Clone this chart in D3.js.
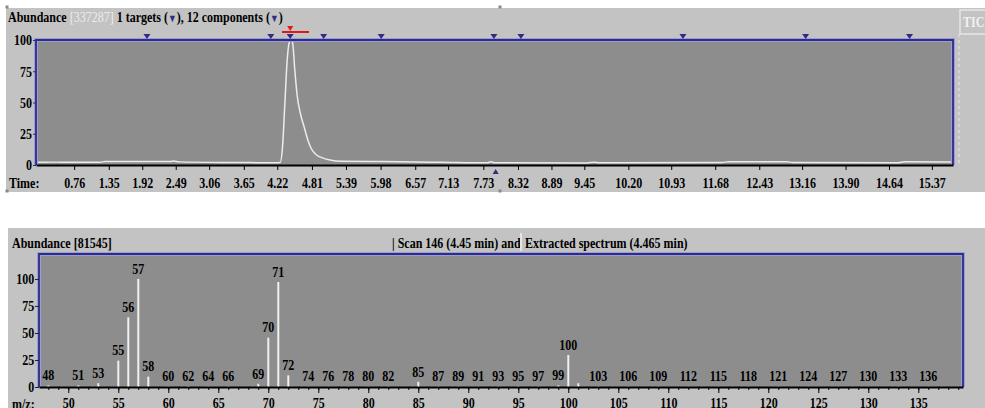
<!DOCTYPE html>
<html>
<head>
<meta charset="utf-8">
<script src="https://cdn.jsdelivr.net/npm/d3@7/dist/d3.min.js"></script>
<style>
  body { margin: 0; background: #fff; }
  svg text { font-family: "Liberation Serif", "Times New Roman", serif; font-weight: bold; font-size: 15px; }
</style>
</head>
<body>
<div id="chart"></div>
<script>
// ---------------- data ----------------
// TIC chromatogram (time in min, relative abundance %)
const ticTimes = [0.11, 0.5, 1.2, 1.28, 2.4, 2.45, 2.55, 3.5, 4.2, 4.27, 4.31, 4.35, 4.39, 4.43, 4.45, 4.48, 4.52, 4.56, 4.62, 4.68, 4.74, 4.8, 4.89, 5.0, 5.12, 5.3, 6.0, 6.6, 7.0, 7.8, 7.86, 7.92, 8.0, 9.5, 9.62, 9.7, 10.0, 11.8, 11.9, 12.9, 13.0, 14.8, 14.9, 15.73];
const ticValues = [2.2, 2.3, 2.2, 2.8, 2.8, 3.2, 2.5, 2.0, 1.8, 2.0, 15, 50, 85, 99, 100, 98, 75, 55, 40, 30, 20, 13, 8, 5.5, 4, 3, 2.8, 2.4, 2.2, 1.8, 2.6, 1.8, 1.8, 1.7, 2.3, 1.8, 1.8, 2.0, 2.6, 2.6, 2.0, 1.8, 2.6, 2.4];
const timeTicks = [0.76, 1.35, 1.92, 2.49, 3.06, 3.65, 4.22, 4.81, 5.39, 5.98, 6.57, 7.13, 7.73, 8.32, 8.89, 9.45, 10.20, 10.93, 11.68, 12.43, 13.16, 13.90, 14.64, 15.37];
const abundanceTicks = [0, 25, 50, 75, 100];
const componentTimes = [2.00, 4.11, 4.44, 5.01, 5.99, 7.91, 8.37, 11.13, 13.22, 14.99];
const targetTime = 4.44;
const targetWindow = [4.30, 4.76];
const scanMarkerTime = 7.94;

// mass spectrum (m/z, relative intensity %)
const mzValues = [48, 51, 53, 55, 56, 57, 58, 60, 62, 64, 66, 69, 70, 71, 72, 74, 76, 78, 80, 82, 85, 87, 89, 91, 93, 95, 97, 99, 100, 101, 103, 106, 109, 112, 115, 118, 121, 124, 127, 130, 133, 136];
const mzIntensity = [1.5, 1.5, 3.5, 24.4, 64.5, 100, 9.6, 0.6, 0.8, 0.6, 0.6, 3, 45.6, 97.2, 10.8, 0.4, 0.4, 0.4, 0.5, 0.6, 4.8, 0.5, 0.4, 0.4, 0.5, 0.6, 0.6, 1.5, 29.6, 3.5, 0.6, 0.4, 0.4, 0.4, 0.4, 0.4, 0.4, 0.4, 0.4, 0.4, 0.4, 0.4];
const unlabeledMz = [101];
const mzMajorTicks = [50, 55, 60, 65, 70, 75, 80, 85, 90, 95, 100, 105, 110, 115, 120, 125, 130, 135];

// ---------------- setup ----------------
const width = 985, height = 408;
const panelBg = "#c3c3c3", plotBg = "#8d8d8d", navy = "#2d2d84", halo = "#9c9cd8";
const squeeze = "scale(0.8,1)"; // the screenshot fonts are horizontally condensed

const svg = d3.select("#chart").append("svg")
  .attr("width", width)
  .attr("height", height);

// text helper: positioned with a translate, then condensed
function label(g, x, y, str, anchor = "start") {
  return g.append("text")
    .attr("transform", `translate(${x},${y}) ${squeeze}`)
    .attr("text-anchor", anchor)
    .attr("dy", "0.35em")
    .text(str);
}

function frame(g, x0, x1, y0, y1) {
  // blue frame on top, left and right sides
  const p = `M${x0},${y1} L${x0},${y0} L${x1},${y0} L${x1},${y1}`;
  g.append("path").attr("d", p).attr("fill", "none").attr("stroke", halo).attr("stroke-width", 4);
  g.append("path").attr("d", p).attr("fill", "none").attr("stroke", navy).attr("stroke-width", 1.8);
}

// ================= TOP PANEL: chromatogram =================
const topG = svg.append("g");
topG.append("rect").attr("x", 6).attr("y", 8).attr("width", width - 6).attr("height", 184).attr("fill", panelBg);

const xTime = d3.scaleLinear().domain([0.11, 15.73]).range([36, 953]);
const yTop = d3.scaleLinear().domain([0, 100]).range([165, 40]);

topG.append("rect")
  .attr("x", xTime.range()[0]).attr("y", yTop(100))
  .attr("width", xTime.range()[1] - xTime.range()[0])
  .attr("height", yTop(0) - yTop(100))
  .attr("fill", plotBg);

// dashed marker line + TIC box at right
topG.append("line")
  .attr("x1", 959).attr("x2", 959).attr("y1", 34).attr("y2", 165)
  .attr("stroke", "#e6e6e6").attr("stroke-dasharray", "3,3");
topG.append("rect").attr("x", 960).attr("y", 10).attr("width", 30).attr("height", 24)
  .attr("fill", panelBg).attr("stroke", "#e6e6e6").attr("stroke-width", 1.5);
label(topG, 963, 22, "TIC").attr("fill", "#f2f2f2");

// TIC trace
const ticLine = d3.line()
  .x((d, i) => xTime(ticTimes[i]))
  .y(d => yTop(d))
  .curve(d3.curveMonotoneX);
topG.append("path")
  .datum(ticValues)
  .attr("d", ticLine)
  .attr("fill", "none")
  .attr("stroke", "#ececec")
  .attr("stroke-width", 1.5);

frame(topG, 36, 953, 40, 165);

// axes
const xAxisTop = topG.append("g")
  .attr("transform", `translate(0,${yTop(0)})`)
  .call(d3.axisBottom(xTime).tickValues(timeTicks).tickFormat(d3.format(".2f")).tickSize(5).tickSizeOuter(0));
xAxisTop.select(".domain").attr("stroke", "#000").attr("stroke-width", 2);
xAxisTop.selectAll(".tick line").attr("stroke", "#000");
xAxisTop.selectAll(".tick text")
  .attr("y", 18).attr("dy", "0.35em")
  .attr("transform", squeeze)
  .style("font-size", "15px").attr("fill", "#000");

const yAxisTop = topG.append("g")
  .attr("transform", `translate(36,0)`)
  .call(d3.axisLeft(yTop).tickValues(abundanceTicks).tickSize(3).tickSizeOuter(0));
yAxisTop.select(".domain").remove();
yAxisTop.selectAll(".tick line").attr("stroke", navy);
yAxisTop.selectAll(".tick text")
  .attr("transform", squeeze).attr("x", -5)
  .style("font-size", "15px").attr("fill", "#000");

label(topG, 9, 183, "Time:");

// component markers on the top border
topG.selectAll("path.comp")
  .data(componentTimes)
  .join("path")
  .attr("class", "comp")
  .attr("d", "M-3.5,-6 L3.5,-6 L0,-1 Z")
  .attr("transform", d => `translate(${xTime(d)},${yTop(100)})`)
  .attr("fill", navy);

// target window (red)
topG.append("line")
  .attr("x1", xTime(targetWindow[0])).attr("x2", xTime(targetWindow[1]))
  .attr("y1", 32).attr("y2", 32)
  .attr("stroke", "#e01818").attr("stroke-width", 2);
topG.append("path")
  .attr("d", "M-3,-5 L3,-5 L0,0 Z")
  .attr("transform", `translate(${xTime(targetTime)},31)`)
  .attr("fill", "#e01818");

// scan marker under the axis
topG.append("path")
  .attr("d", "M-3,5 L3,5 L0,0 Z")
  .attr("transform", `translate(${xTime(scanMarkerTime)},169)`)
  .attr("fill", navy);

// title
const title1 = topG.append("text")
  .attr("transform", `translate(8,17) ${squeeze}`)
  .attr("dy", "0.35em");
title1.append("tspan").text("Abundance ");
title1.append("tspan").attr("fill", "#ececec").attr("font-weight", "normal").text("[337287]");
title1.append("tspan").text(" 1 targets (");
title1.append("tspan").attr("fill", navy).style("font-size", "11px").text("▼");
title1.append("tspan").text("), 12 components (");
title1.append("tspan").attr("fill", navy).style("font-size", "11px").text("▼");
title1.append("tspan").text(")");

// resize handles
[[7, 7], [500, 7], [7, 191], [500, 191]].forEach(([x, y]) => {
  topG.append("rect").attr("x", x - 1.5).attr("y", y - 1.5).attr("width", 3).attr("height", 3).attr("fill", "#8a8a8a");
});

// ================= BOTTOM PANEL: spectrum =================
const botG = svg.append("g");
botG.append("rect").attr("x", 8).attr("y", 228).attr("width", width - 8).attr("height", height - 228).attr("fill", panelBg);

const xMz = d3.scaleLinear().domain([47.07, 139.47]).range([39, 963]);
const yMz = d3.scaleLinear().domain([0, 123.1]).range([387, 254]);

botG.append("rect")
  .attr("x", 39).attr("y", 254)
  .attr("width", 963 - 39).attr("height", 387 - 254)
  .attr("fill", plotBg);

// spectrum sticks
const peaks = mzValues.map((m, i) => ({ mz: m, v: mzIntensity[i] }));
botG.selectAll("line.peak")
  .data(peaks)
  .join("line")
  .attr("class", "peak")
  .attr("x1", d => xMz(d.mz)).attr("x2", d => xMz(d.mz))
  .attr("y1", yMz(0)).attr("y2", d => yMz(d.v))
  .attr("stroke", "#f0f0f0")
  .attr("stroke-width", 2);

// peak labels
peaks.filter(d => !unlabeledMz.includes(d.mz)).forEach(d => {
  label(botG, xMz(d.mz), yMz(d.v) - 10.5, d.mz, "middle").attr("fill", "#000");
});

frame(botG, 39, 963, 254, 387);

// minor ticks every unit, major every 5
const xMinor = botG.append("g")
  .attr("transform", `translate(0,${yMz(0)})`)
  .call(d3.axisBottom(xMz).tickValues(d3.range(48, 140)).tickFormat("").tickSize(3).tickSizeOuter(0));
xMinor.select(".domain").attr("stroke", "#000").attr("stroke-width", 2);
const xMajor = botG.append("g")
  .attr("transform", `translate(0,${yMz(0)})`)
  .call(d3.axisBottom(xMz).tickValues(mzMajorTicks).tickSize(6).tickSizeOuter(0));
xMajor.select(".domain").remove();
xMajor.selectAll(".tick text")
  .attr("y", 16).attr("dy", "0.35em")
  .attr("transform", squeeze)
  .style("font-size", "15px").attr("fill", "#000");

const yAxisBot = botG.append("g")
  .attr("transform", `translate(39,0)`)
  .call(d3.axisLeft(yMz).tickValues(abundanceTicks).tickSize(4).tickSizeOuter(0));
yAxisBot.select(".domain").remove();
yAxisBot.selectAll(".tick line").attr("stroke", "#222");
yAxisBot.selectAll(".tick text")
  .attr("transform", squeeze).attr("x", -6)
  .style("font-size", "15px").attr("fill", "#000");

label(botG, 12, 404, "m/z:");

// titles
label(botG, 12, 243, "Abundance [81545]");
label(botG, 392, 243, "| Scan 146 (4.45 min) and");
botG.append("rect").attr("x", 520).attr("y", 233).attr("width", 2).attr("height", 18).attr("fill", "#e4e4e4");
label(botG, 525, 243, "Extracted spectrum (4.465 min)");
</script>
</body>
</html>
